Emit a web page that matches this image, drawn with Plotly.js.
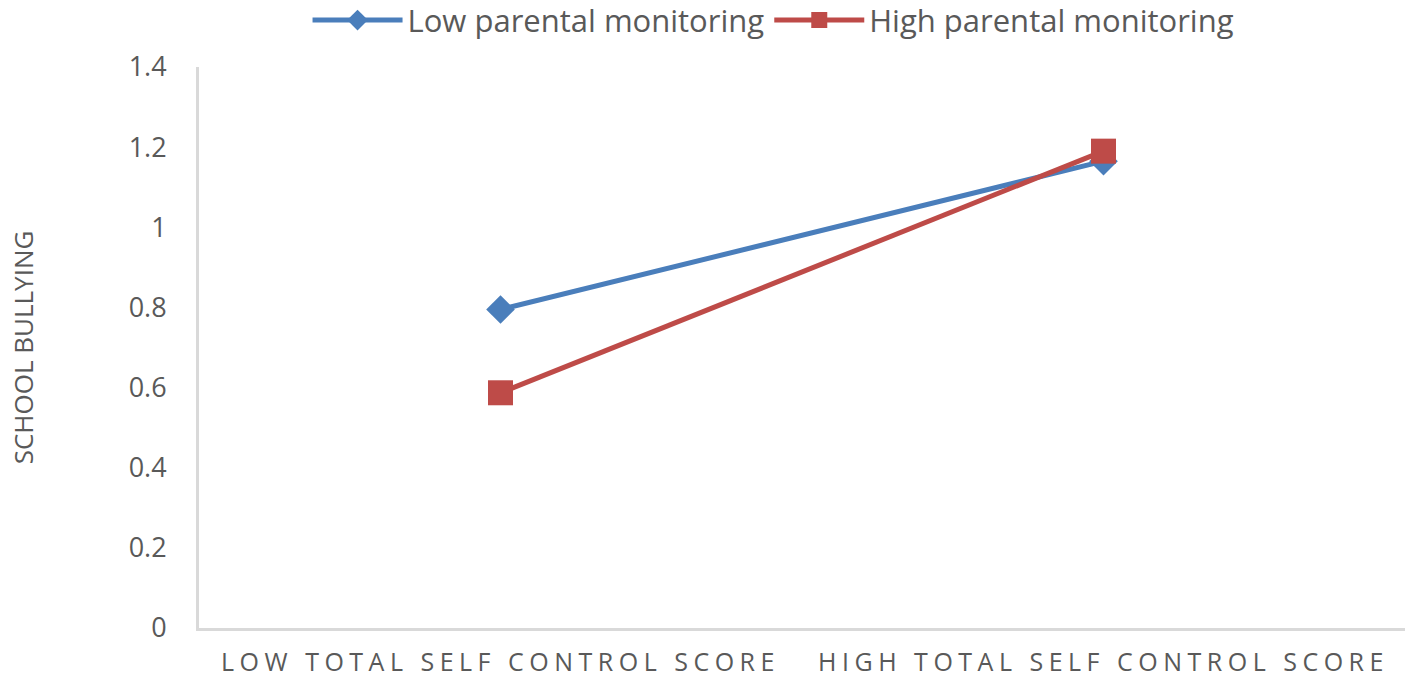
<!DOCTYPE html>
<html>
<head>
<meta charset="utf-8">
<script src="https://cdn.plot.ly/plotly-3.0.1.min.js"></script>
<style>
html,body{margin:0;padding:0;background:#fff;}
#chart{width:1418px;height:682px;}
.xtick text{letter-spacing:5.5px;}
</style>
</head>
<body>
<div id="chart"></div>
<script>
const categories = ["LOW TOTAL SELF CONTROL SCORE", "HIGH TOTAL SELF CONTROL SCORE"];
const lowMonitoring = [0.795, 1.165];
const highMonitoring = [0.587, 1.19];
const yTicks = [0, 0.2, 0.4, 0.6, 0.8, 1, 1.2, 1.4];
const yTickLabels = ["0", "0.2", "0.4", "0.6", "0.8", "1", "1.2", "1.4"];

const traces = [
  {
    x: categories, y: lowMonitoring, name: "Low parental monitoring",
    type: "scatter", mode: "lines+markers",
    line: {color: "#4A7EBB", width: 5},
    marker: {symbol: "diamond", size: 22, color: "#4A7EBB"}
  },
  {
    x: categories, y: highMonitoring, name: "High parental monitoring",
    type: "scatter", mode: "lines+markers",
    line: {color: "#BE4B48", width: 5},
    marker: {symbol: "square", size: 25, color: "#BE4B48"}
  }
];

const layout = {
  width: 1418, height: 682,
  margin: {l: 199, r: 13, t: 67, b: 54, pad: 0},
  paper_bgcolor: "#fff", plot_bgcolor: "#fff",
  font: {family: "Open Sans, sans-serif", color: "#595959"},
  showlegend: true,
  legend: {
    orientation: "h", x: 0.09, xanchor: "left",
    yref: "container", y: 0.97, yanchor: "middle",
    font: {size: 31, color: "#595959", family: "Open Sans, sans-serif"},
    itemwidth: 90, traceorder: "normal", tracegroupgap: 0
  },
  xaxis: {
    type: "category", range: [-0.5, 1.5],
    showline: true, linecolor: "#D9D9D9", linewidth: 3,
    showgrid: false, zeroline: false, ticks: "", ticklabelstandoff: 10,
    tickfont: {size: 25, color: "#595959", family: "Open Sans, sans-serif"},
    automargin: false
  },
  yaxis: {
    range: [0, 1.4], tickvals: yTicks, ticktext: yTickLabels,
    showline: true, linecolor: "#D9D9D9", linewidth: 3,
    showgrid: false, zeroline: false, ticks: "", ticklabelstandoff: 24,
    tickfont: {size: 27, color: "#595959", family: "Open Sans, sans-serif"},
    title: {text: "SCHOOL BULLYING", standoff: 88, font: {size: 26, color: "#595959", family: "Open Sans, sans-serif"}},
    automargin: false
  }
};

Plotly.newPlot("chart", traces, layout, {displayModeBar: false, staticPlot: true});
</script>
</body>
</html>
